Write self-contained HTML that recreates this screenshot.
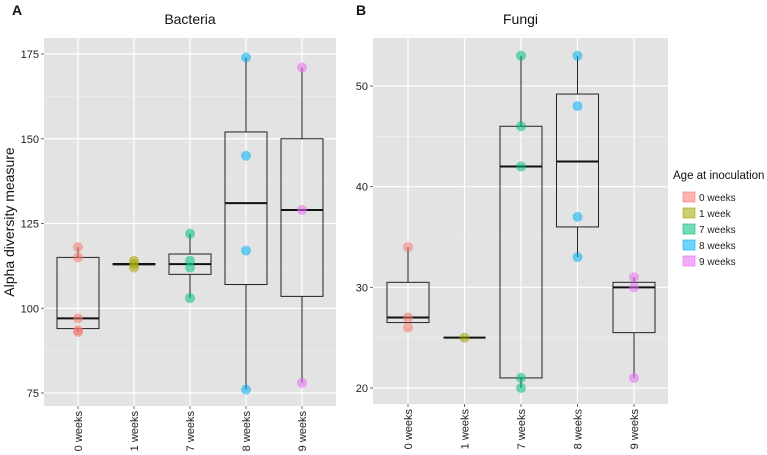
<!DOCTYPE html>
<html><head><meta charset="utf-8"><style>
html,body{margin:0;padding:0;background:#fff;}
svg{display:block;font-family:"Liberation Sans",sans-serif;}
</style></head><body>
<svg id="c" width="767" height="455" viewBox="0 0 767 455"></svg>
<script>
const categories=["0 weeks","1 weeks","7 weeks","8 weeks","9 weeks"];
const colors=["#F8766D","#A3A500","#00BF7D","#00B0F6","#E76BF3"];
const legendLabels=["0 weeks","1 week","7 weeks","8 weeks","9 weeks"];
// Bacteria
const bacPoints=[[118,115,97,93.5,93],[113,114,112],[122,114,112,103],[174,145,117,76],[171,129,78]];
const bacQ1=[94,112.8,110,107,103.5];
const bacMed=[97,113,113,131,129];
const bacQ3=[115,113.2,116,152,150];
const bacLo=[93,112.8,103,76,78];
const bacHi=[118,113.2,122,174,171];
const bacTicks=[75,100,125,150,175];
// Fungi
const funPoints=[[34,27,26],[25],[53,46,42,21,20],[53,48,37,33],[31,30,21]];
const funQ1=[26.5,25,21,36,25.5];
const funMed=[27,25,42,42.5,30];
const funQ3=[30.5,25,46,49.2,30.5];
const funLo=[26.5,25,20,33,21];
const funHi=[34,25,53,53,31];
const funTicks=[20,30,40,50];

const svg=document.getElementById('c');
const NS="http://www.w3.org/2000/svg";
function mk(tag,attrs,parent,text){const e=document.createElementNS(NS,tag);for(const k in attrs)e.setAttribute(k,attrs[k]);if(text!==undefined)e.textContent=text;(parent||svg).appendChild(e);return e;}

function panel(opt){
  const g=mk('g',{});
  
  
  const y=v=>opt.y0+(v-opt.v0)*(opt.y1-opt.y0)/(opt.v1-opt.v0);
  const x=i=>opt.cx0+i*opt.step;
  const bg=mk('rect',{x:opt.L,y:opt.T,width:opt.R-opt.L,height:opt.B-opt.T,fill:'#e3e3e3'},g);
  
  
  const t=opt.ticks;
  for(let i=0;i<t.length-1;i++){const m=(t[i]+t[i+1])/2;mk('line',{x1:opt.L,x2:opt.R,y1:y(m),y2:y(m),stroke:'#f0f0f0','stroke-width':0.6},g);}
  if(opt.extraMinor) opt.extraMinor.forEach(m=>mk('line',{x1:opt.L,x2:opt.R,y1:y(m),y2:y(m),stroke:'#f0f0f0','stroke-width':0.6},g));
  t.forEach(v=>{
    mk('line',{x1:opt.L,x2:opt.R,y1:y(v),y2:y(v),stroke:'#fff','stroke-width':1.2},g);
    mk('line',{x1:opt.L-3,x2:opt.L,y1:y(v),y2:y(v),stroke:'#444','stroke-width':0.8},g);
    const tl=mk('text',{x:opt.L-5,y:y(v)+4,'text-anchor':'end','font-size':11,fill:'#222'},g,String(v));
    
    
  });
  categories.forEach((c,i)=>{
    mk('line',{x1:x(i),x2:x(i),y1:opt.T,y2:opt.B,stroke:'#fff','stroke-width':1.2},g);
    mk('line',{x1:x(i),x2:x(i),y1:opt.B,y2:opt.B+3,stroke:'#444','stroke-width':0.8},g);
    const tl=mk('text',{x:0,y:0,'text-anchor':'end','font-size':11,fill:'#222',transform:`translate(${x(i)+4},${opt.B+5}) rotate(-90)`},g,c);
    
    
  });
  const hw=21;
  categories.forEach((c,i)=>{
    const bx=mk('g',{},g);
    
    
    mk('line',{x1:x(i),x2:x(i),y1:y(opt.hi[i]),y2:y(opt.q3[i]),stroke:'#222','stroke-width':1},bx);
    mk('line',{x1:x(i),x2:x(i),y1:y(opt.q1[i]),y2:y(opt.lo[i]),stroke:'#222','stroke-width':1},bx);
    const top=y(opt.q3[i]),bot=y(opt.q1[i]);
    mk('rect',{x:x(i)-hw,y:Math.min(top,bot),width:2*hw,height:Math.abs(bot-top),fill:'none',stroke:'#222','stroke-width':1},bx);
    mk('line',{x1:x(i)-hw,x2:x(i)+hw,y1:y(opt.med[i]),y2:y(opt.med[i]),stroke:'#111','stroke-width':2},bx);
    opt.pts[i].forEach(v=>{
      const p=mk('circle',{cx:x(i),cy:y(v),r:5,fill:colors[i],'fill-opacity':0.55},bx);
      
      
    });
  });
  const ti=mk('text',{x:(opt.L+opt.R)/2,y:24,'text-anchor':'middle','font-size':14,fill:'#111'},g,opt.title);
  
  
  const lt=mk('text',{x:opt.letterX,y:15,'font-size':14,'font-weight':'bold',fill:'#111'},g,opt.letter);
  
  
}
panel({name:'bacteria-panel',L:44,R:336,T:38,B:406,v0:75,v1:175,y0:393,y1:54,cx0:78,step:56,ticks:bacTicks,extraMinor:[],
  pts:bacPoints,q1:bacQ1,med:bacMed,q3:bacQ3,lo:bacLo,hi:bacHi,title:'Bacteria',letter:'A',letterX:12});
panel({name:'fungi-panel',L:373,R:668,T:38,B:404,v0:20,v1:50,y0:388,y1:86,cx0:408,step:56.5,ticks:funTicks,extraMinor:[55],
  pts:funPoints,q1:funQ1,med:funMed,q3:funQ3,lo:funLo,hi:funHi,title:'Fungi',letter:'B',letterX:356});
const yt=mk('text',{x:0,y:0,'text-anchor':'middle','font-size':14,fill:'#111',transform:'translate(14,222) rotate(-90)'},svg,'Alpha diversity measure');


const lg=mk('g',{});


mk('text',{x:673,y:179,'font-size':11.5,fill:'#111'},lg,'Age at inoculation');
legendLabels.forEach((l,i)=>{
  const e=mk('g',{},lg);
  
  
  const cy=197+i*16;
  mk('rect',{x:683,y:cy-5,width:12,height:10,fill:colors[i],'fill-opacity':0.55,stroke:colors[i],'stroke-opacity':0.6},e);
  mk('text',{x:699,y:cy+4,'font-size':10,fill:'#222'},e,l);
});
</script>
</body></html>
